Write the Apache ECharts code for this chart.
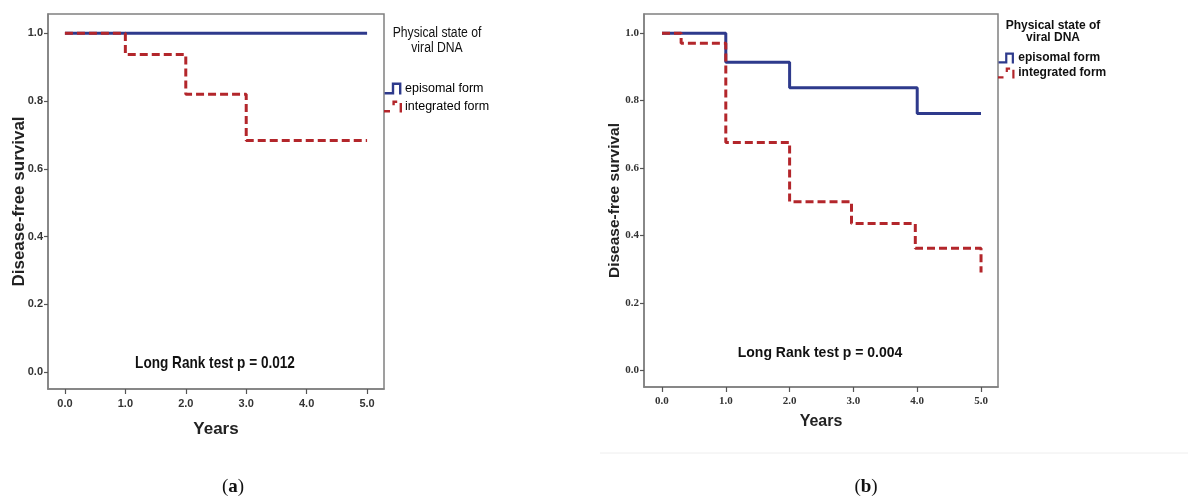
<!DOCTYPE html>
<html><head><meta charset="utf-8">
<script src="https://cdn.jsdelivr.net/npm/echarts@6/dist/echarts.min.js"></script>
<style>html,body{margin:0;padding:0;background:#fff}#c{width:1188px;height:500px}</style>
</head><body><div id="c"></div>
<script>
// ---- data ----
const xTicks = [0, 1, 2, 3, 4, 5];
const yTicks = [0, 0.2, 0.4, 0.6, 0.8, 1.0];
// Panel (a) — Kaplan–Meier steps [year, survival]
const aEpisomal   = [[0, 1.0], [5, 1.0]];
const aIntegrated = [[0, 1.0], [1, 0.9375], [2, 0.8203], [3, 0.6836], [5, 0.6836]];
// Panel (b)
const bEpisomal   = [[0, 1.0], [1, 0.914], [2, 0.838], [4, 0.762], [5, 0.762]];
const bIntegrated = [[0, 1.0], [0.3, 0.97], [1, 0.676], [2, 0.5], [2.97, 0.435], [3.97, 0.362], [5, 0.29]];
const seriesNames = ['episomal form', 'integrated form'];
const legendTitle = ['Physical state of', 'viral DNA'];
const pTexts = ['Long Rank test p = 0.012', 'Long Rank test p = 0.004'];
const captions = ['a', 'b'];

// ---- styles ----
const BLUE = '#2E3A8C', RED = '#B3262B', FRAME = '#808080';
const SANS = "'Liberation Sans',Arial,sans-serif";
const SERIF = "'Liberation Serif','DejaVu Serif',serif";
const iconBlue = 'path://M0,8 L6,8 L6,0 L14,0 L14,10 L12,10 L12,2 L8,2 L8,10 L0,10 Z';
const iconRed = 'path://M0,8 L5,8 L5,10 L0,10 Z M7,0 L11,0 L11,2 L9,2 L9,4 L7,4 Z M13,2 L15,2 L15,10 L13,10 Z';

function xAx(gi, min, max, font, fs, nameFs, nameGap) {
  return {
    type: 'value', gridIndex: gi, min: min, max: max,
    name: 'Years', nameLocation: 'middle', nameGap: nameGap,
    nameTextStyle: { fontFamily: SANS, fontWeight: 'bold', fontSize: nameFs, color: '#222' },
    axisLine: { show: true, onZero: false, lineStyle: { color: FRAME, width: 1.5 } },
    axisTick: { show: true, customValues: xTicks, length: 5, lineStyle: { color: '#555', width: 1.2 } },
    axisLabel: { customValues: xTicks, formatter: v => v.toFixed(1), fontFamily: font, fontWeight: 'bold', fontSize: fs, color: '#333', margin: 9 },
    splitLine: { show: false }
  };
}
function yAx(gi, font, fs, nameFs, nameGap) {
  return {
    type: 'value', gridIndex: gi, min: -0.05, max: 1.057,
    name: 'Disease-free survival', nameLocation: 'middle', nameGap: nameGap, nameRotate: 90,
    nameMoveOverlap: false,
    nameTextStyle: { fontFamily: SANS, fontWeight: 'bold', fontSize: nameFs, color: '#222' },
    axisLine: { show: true, onZero: false, lineStyle: { color: FRAME, width: 1.5 } },
    axisTick: { show: true, customValues: yTicks, length: 4, lineStyle: { color: '#555', width: 1.2 } },
    axisLabel: { customValues: yTicks, formatter: v => v.toFixed(1), fontFamily: font, fontWeight: 'bold', fontSize: fs, color: '#333', margin: 5 },
    splitLine: { show: false }
  };
}
function stepSeries(name, data, gi, color, dashed, w) {
  return {
    type: 'line', name: name, data: data, step: 'end', xAxisIndex: gi, yAxisIndex: gi,
    showSymbol: false, symbol: 'none', animation: false, silent: true,
    lineStyle: { color: color, width: w, type: dashed ? [8, 4] : 'solid' },
    itemStyle: { color: color }
  };
}

const chart = echarts.init(document.getElementById('c'), null, { renderer: 'canvas' });
chart.setOption({
  animation: false,
  backgroundColor: '#fff',
  grid: [
    { left: 48, top: 14, width: 336, height: 375, show: true, borderColor: FRAME, borderWidth: 1.5, backgroundColor: 'transparent' },
    { left: 644, top: 14, width: 354, height: 373, show: true, borderColor: FRAME, borderWidth: 1.5, backgroundColor: 'transparent' }
  ],
  xAxis: [ xAx(0, -0.28, 5.28, SANS, 11, 17, 32), xAx(1, -0.282, 5.266, SERIF, 11, 16, 27) ],
  yAxis: [ yAx(0, SANS, 11, 17, 20), yAx(1, SERIF, 11, 15.5, 21) ],
  legend: [
    { orient: 'vertical', left: 384, top: 82, padding: 0, itemWidth: 20, itemHeight: 12, itemGap: 5,
      data: [{ name: seriesNames[0], icon: iconBlue }, { name: seriesNames[1], icon: iconRed }],
      textStyle: { fontFamily: SANS, fontSize: 12.5, color: '#000', padding: [0, 0, 0, -3] }, selectedMode: false },
    { orient: 'vertical', left: 998, top: 52, padding: 0, itemWidth: 20, itemHeight: 11, itemGap: 3,
      data: [{ name: seriesNames[0], icon: iconBlue }, { name: seriesNames[1], icon: iconRed }],
      textStyle: { fontFamily: SANS, fontWeight: 'bold', fontSize: 12, color: '#111', padding: [0, 0, 0, -3] }, selectedMode: false }
  ],
  series: [
    stepSeries(seriesNames[0], aEpisomal, 0, BLUE, false, 3),
    stepSeries(seriesNames[1], aIntegrated, 0, RED, true, 3),
    stepSeries(seriesNames[0], bEpisomal, 1, BLUE, false, 3),
    stepSeries(seriesNames[1], bIntegrated, 1, RED, true, 3)
  ],
  graphic: [
    { type: 'text', x: 437, y: 26, scaleX: 0.87, style: { text: legendTitle.join('\n'), fontFamily: SANS, fontSize: 14, lineHeight: 15, fill: '#111', align: 'center' } },
    { type: 'text', x: 1053, y: 20, style: { text: legendTitle.join('\n'), fontFamily: SANS, fontWeight: 'bold', fontSize: 12, lineHeight: 12, fill: '#111', align: 'center' } },
    { type: 'text', x: 215, y: 363, scaleX: 0.8, style: { text: pTexts[0], fontFamily: SANS, fontWeight: 'bold', fontSize: 17, fill: '#111', align: 'center', verticalAlign: 'middle' } },
    { type: 'text', x: 820, y: 353, style: { text: pTexts[1], fontFamily: SANS, fontWeight: 'bold', fontSize: 14, fill: '#111', align: 'center', verticalAlign: 'middle' } },
    { type: 'line', shape: { x1: 600, y1: 453, x2: 1188, y2: 453 }, style: { stroke: '#eeeeee', lineWidth: 1 } },
    { type: 'text', x: 233, y: 487, style: { text: '(' + '{b|' + captions[0] + '})', rich: { b: { fontWeight: 'bold', fontFamily: SERIF, fontSize: 19 } }, fontFamily: SERIF, fontSize: 19, fill: '#111', align: 'center', verticalAlign: 'middle' } },
    { type: 'text', x: 866, y: 487, style: { text: '(' + '{b|' + captions[1] + '})', rich: { b: { fontWeight: 'bold', fontFamily: SERIF, fontSize: 19 } }, fontFamily: SERIF, fontSize: 19, fill: '#111', align: 'center', verticalAlign: 'middle' } }
  ]
});
</script></body></html>
